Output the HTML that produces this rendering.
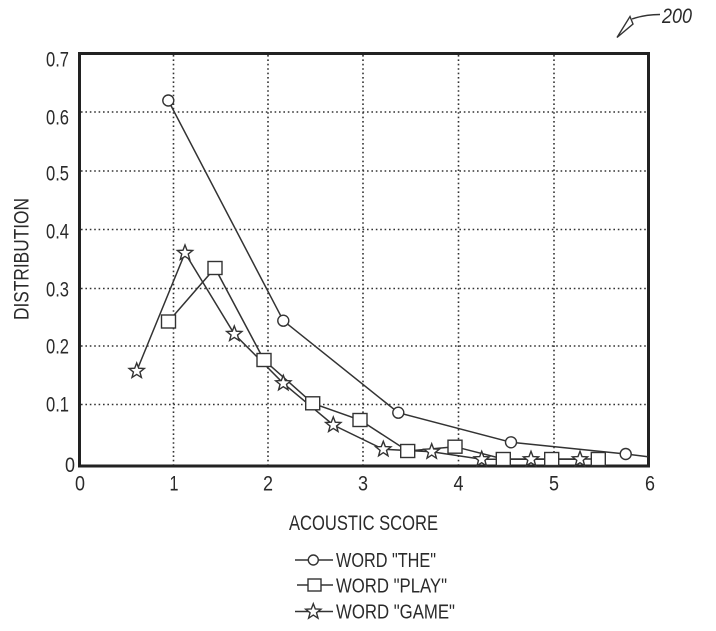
<!DOCTYPE html>
<html><head><meta charset="utf-8"><style>
html,body{margin:0;padding:0;background:#fff;}
svg{display:block;}
text{font-family:"Liberation Sans",Arial,sans-serif;fill:#2a2a2a;}
</style></head><body>
<svg width="716" height="631" viewBox="0 0 716 631" xmlns="http://www.w3.org/2000/svg">
<defs>
<path id="star" d="M0,-8 L2,-2.75 L7.61,-2.47 L3.23,1.05 L4.7,6.47 L0,3.4 L-4.7,6.47 L-3.23,1.05 L-7.61,-2.47 L-2,-2.75 Z" fill="#fff" stroke="#333" stroke-width="1.4"/>
</defs>
<!-- grid -->
<g stroke="#333" stroke-width="1.6" stroke-dasharray="1.6 2.8" fill="none">
<line x1="173.5" y1="55" x2="173.5" y2="465"/>
<line x1="268" y1="55" x2="268" y2="465"/>
<line x1="363" y1="55" x2="363" y2="465"/>
<line x1="458.5" y1="55" x2="458.5" y2="465"/>
<line x1="554" y1="55" x2="554" y2="465"/>
<line x1="81" y1="112" x2="647" y2="112"/>
<line x1="81" y1="171" x2="647" y2="171"/>
<line x1="81" y1="229.5" x2="647" y2="229.5"/>
<line x1="81" y1="288.5" x2="647" y2="288.5"/>
<line x1="81" y1="346" x2="647" y2="346"/>
<line x1="81" y1="404.5" x2="647" y2="404.5"/>
</g>
<rect x="79.5" y="53.5" width="569" height="412.5" fill="none" stroke="#222" stroke-width="3"/>
<!-- series lines -->
<g fill="none" stroke="#333" stroke-width="1.5">
<polyline points="168.3,100.5 283.3,320.7 398.3,412.7 511,442.3 625.7,454 648,456.7"/>
<polyline points="168.5,321.5 215,268 264,360 312.7,403.3 360,420 407.7,451 455,446.7 503.3,459 551.7,459 598.3,459"/>
<polyline points="136.7,371 185,253 234.3,334 283.3,383.3 333.3,425 383.3,449.3 431.7,451.7 481.7,459.3 531,459.3 580,459.3"/>
</g>
<!-- circles -->
<g fill="#fff" stroke="#333" stroke-width="1.4">
<circle cx="168.3" cy="100.5" r="5.5"/>
<circle cx="283.3" cy="320.7" r="5.5"/>
<circle cx="398.3" cy="412.7" r="5.5"/>
<circle cx="511" cy="442.3" r="5.5"/>
<circle cx="625.7" cy="454" r="5.5"/>
</g>
<!-- squares -->
<g fill="#fff" stroke="#333" stroke-width="1.4">
<rect x="161.5" y="315" width="14" height="13"/>
<rect x="208" y="261.5" width="14" height="13"/>
<rect x="257" y="353.5" width="14" height="13"/>
<rect x="305.7" y="396.8" width="14" height="13"/>
<rect x="353" y="413.5" width="14" height="13"/>
<rect x="400.7" y="444.5" width="14" height="13"/>
<rect x="448" y="440.2" width="14" height="13"/>
<rect x="496.3" y="452.5" width="14" height="13"/>
<rect x="544.7" y="452.5" width="14" height="13"/>
<rect x="591.3" y="452.5" width="14" height="13"/>
</g>
<!-- stars -->
<use href="#star" x="136.7" y="371"/>
<use href="#star" x="185" y="253"/>
<use href="#star" x="234.3" y="334"/>
<use href="#star" x="283.3" y="383.3"/>
<use href="#star" x="333.3" y="425"/>
<use href="#star" x="383.3" y="449.3"/>
<use href="#star" x="431.7" y="451.7"/>
<use href="#star" x="481.7" y="459.3"/>
<use href="#star" x="531" y="459.3"/>
<use href="#star" x="580" y="459.3"/>
<!-- y tick labels -->
<g font-size="21" text-anchor="end">
<text x="69" y="66.5" textLength="23" lengthAdjust="spacingAndGlyphs">0.7</text>
<text x="69" y="124.5" textLength="23" lengthAdjust="spacingAndGlyphs">0.6</text>
<text x="69" y="180.5" textLength="23" lengthAdjust="spacingAndGlyphs">0.5</text>
<text x="69" y="238.5" textLength="23" lengthAdjust="spacingAndGlyphs">0.4</text>
<text x="69" y="296.5" textLength="23" lengthAdjust="spacingAndGlyphs">0.3</text>
<text x="69" y="353.5" textLength="23" lengthAdjust="spacingAndGlyphs">0.2</text>
<text x="69" y="411.5" textLength="23" lengthAdjust="spacingAndGlyphs">0.1</text>
<text x="75" y="472" textLength="10" lengthAdjust="spacingAndGlyphs">0</text>
</g>
<!-- x tick labels -->
<g font-size="21" text-anchor="middle">
<text x="80" y="490.5" textLength="10" lengthAdjust="spacingAndGlyphs">0</text>
<text x="174" y="490.5" textLength="9" lengthAdjust="spacingAndGlyphs">1</text>
<text x="268" y="490.5" textLength="10" lengthAdjust="spacingAndGlyphs">2</text>
<text x="363" y="490.5" textLength="10" lengthAdjust="spacingAndGlyphs">3</text>
<text x="458.5" y="490.5" textLength="10" lengthAdjust="spacingAndGlyphs">4</text>
<text x="554" y="490.5" textLength="10" lengthAdjust="spacingAndGlyphs">5</text>
<text x="650" y="490.5" textLength="10" lengthAdjust="spacingAndGlyphs">6</text>
</g>
<!-- axis labels -->
<text transform="translate(28.5,259) rotate(-90)" font-size="21" text-anchor="middle" textLength="122" lengthAdjust="spacingAndGlyphs">DISTRIBUTION</text>
<text x="289" y="530" font-size="21" textLength="149" lengthAdjust="spacingAndGlyphs">ACOUSTIC SCORE</text>
<!-- legend -->
<g stroke="#333" stroke-width="1.4" fill="#fff">
<line x1="295" y1="560" x2="333" y2="560"/>
<circle cx="313.3" cy="560" r="5"/>
<line x1="297" y1="585" x2="333" y2="585"/>
<rect x="308" y="579" width="13" height="12"/>
<line x1="295" y1="611.5" x2="333" y2="611.5"/>
</g>
<use href="#star" x="313.3" y="611.7"/>
<g font-size="20">
<text x="336" y="567" textLength="100" lengthAdjust="spacingAndGlyphs">WORD "THE"</text>
<text x="336" y="592.5" textLength="111" lengthAdjust="spacingAndGlyphs">WORD "PLAY"</text>
<text x="336" y="618.5" textLength="119" lengthAdjust="spacingAndGlyphs">WORD "GAME"</text>
</g>
<!-- reference numeral -->
<text x="662" y="23" font-size="21" font-style="italic" textLength="30" lengthAdjust="spacingAndGlyphs">200</text>
<g fill="none" stroke="#333" stroke-width="1.4">
<path d="M660,14.5 Q645,14.5 632,19"/>
<path d="M617,37.5 L630,16.5 L633,24 Z"/>
</g>
</svg>
</body></html>
